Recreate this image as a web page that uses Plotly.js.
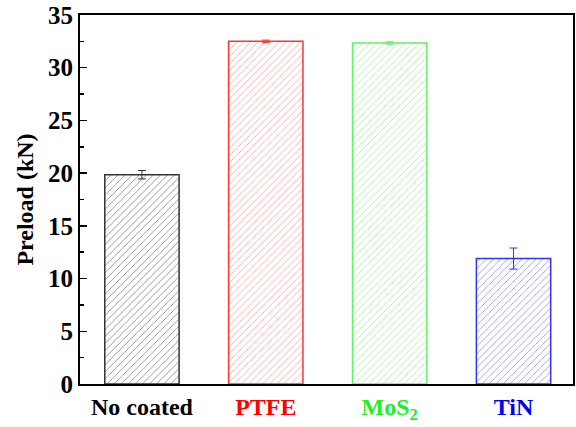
<!DOCTYPE html>
<html><head><meta charset="utf-8">
<script src="https://cdn.plot.ly/plotly-3.0.1.min.js"></script>
<style>body{margin:0;background:#fff}#c{width:576px;height:427px}</style>
</head><body><div id="c"></div>
<script>
const categories = ["No coated", "PTFE", "MoS2", "TiN"];
const tickLabels = ["No coated", "PTFE", "MoS<sub>2</sub>", "TiN"];
const preload = [19.85, 32.5, 32.35, 11.9];
const errors = [0.4, 0.12, 0.12, 1.0];
const edgeColors = ["#333333", "#ff3333", "#66ee66", "#3333ee"];
const hatchColors = ["#777777", "#ff9999", "#99ee99", "#8888ee"];
const labelColors = ["#000000", "#ff0000", "#22ee22", "#0000ee"];

const traces = categories.map((c, i) => ({
  type: "bar",
  x: [i],
  y: [preload[i]],
  width: 0.6,
  marker: {
    color: "#ffffff",
    line: {color: edgeColors[i], width: 1.5},
    pattern: {shape: "/", fgcolor: hatchColors[i], bgcolor: "#ffffff", size: 5, solidity: 0.15}
  },
  error_y: {type: "data", array: [errors[i]], visible: true, color: edgeColors[i], thickness: 1, width: 4},
  showlegend: false,
  hoverinfo: "none"
}));

const layout = {
  width: 576, height: 427,
  margin: {l: 80, r: 3, t: 15, b: 43},
  paper_bgcolor: "#fff", plot_bgcolor: "#fff",
  barmode: "overlay",
  font: {family: "Liberation Serif, Times New Roman, serif", color: "#000"},
  xaxis: {
    range: [-0.5, 3.48],
    tickvals: [0, 1, 2, 3],
    ticktext: tickLabels.map((t, i) => `<span style="color:${labelColors[i]}">${t}</span>`),
    tickfont: {size: 24, family: "Liberation Serif", weight: "bold"},
    ticks: "", showline: true, mirror: true, linecolor: "#000", linewidth: 2,
    showgrid: false, zeroline: false, fixedrange: true
  },
  yaxis: {
    range: [0, 35],
    tickvals: [0, 5, 10, 15, 20, 25, 30, 35],
    ticks: "inside", ticklen: 7, tickwidth: 1.5, tickcolor: "#000",
    minor: {dtick: 2.5, ticks: "inside", ticklen: 4, tickwidth: 1.5, tickcolor: "#000"},
    tickfont: {size: 25, family: "Liberation Serif", weight: "bold"},
    title: {text: "Preload (kN)", font: {size: 24, family: "Liberation Serif", weight: "bold"}, standoff: 8},
    showline: true, mirror: true, linecolor: "#000", linewidth: 2,
    showgrid: false, zeroline: false, fixedrange: true
  }
};
Plotly.newPlot("c", traces, layout, {staticPlot: true});
</script></body></html>
